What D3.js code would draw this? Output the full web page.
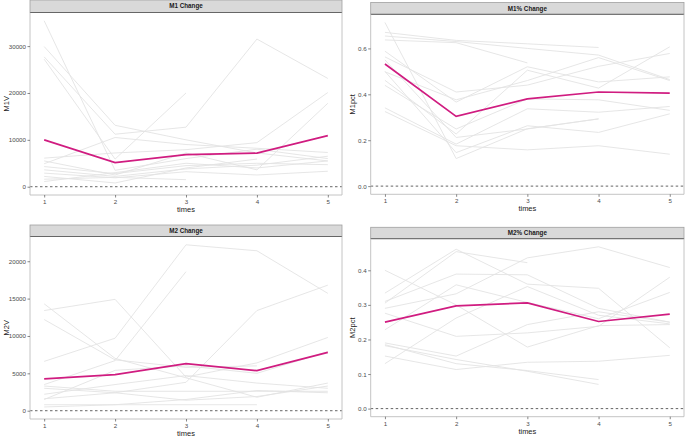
<!DOCTYPE html>
<html><head><meta charset="utf-8">
<script src="https://cdn.jsdelivr.net/npm/d3@7"></script>
<style>body{margin:0;background:#fff}svg{display:block}</style>
</head><body>
<svg id="c" width="685" height="437"></svg>
<script>
const times = [1, 2, 3, 4, 5];
const panelTitles = ["M1 Change", "M1% Change", "M2 Change", "M2% Change"];
const yLabels = ["M1V", "M1pct", "M2V", "M2pct"];

const m1vTicks = [0, 10000, 20000, 30000];
const m1pctTicks = [0, 0.2, 0.4, 0.6];
const m2vTicks = [0, 5000, 10000, 15000, 20000];
const m2pctTicks = [0, 0.1, 0.2, 0.3, 0.4];

const m1vSeries = [
  [35400, 3500, 6000, 8000, 6000],
  [29900, 13100, 10000, 7200, 5500],
  [27700, 11200, 12700, 31500, 23100],
  [27200, 5900, 20000, null, null],
  [6100, 7200, 7900, 9400, 20100],
  [5500, 2500, 7200, 3600, 17800],
  [4900, 10500, 9000, 8200, 7300],
  [4300, 2800, 4500, 5000, 4700],
  [3600, 2200, 3800, 4600, 6500],
  [2900, 1900, 3200, 2500, 3300],
  [2200, 800, 4000, 5900, null],
  [1600, 2000, 1500, null, null],
  [1100, 3000, 5000, 4000, 5500]
];
const m1vMean = [10000, 5150, 6850, 7150, 10900];

const m1pctSeries = [
  [0.713, 0.120, 0.250, 0.293, null],
  [0.670, 0.635, 0.620, 0.604, null],
  [0.654, 0.630, 0.600, 0.571, 0.464],
  [0.637, 0.625, 0.537, null, null],
  [0.588, 0.366, 0.520, 0.454, 0.476],
  [0.563, 0.410, 0.440, 0.522, 0.578],
  [0.498, 0.376, 0.460, 0.560, 0.460],
  [0.461, 0.227, 0.505, 0.427, 0.607],
  [0.439, 0.249, 0.380, 0.376, 0.330],
  [0.341, 0.183, 0.337, 0.322, 0.347],
  [0.325, 0.176, 0.158, 0.176, 0.139],
  [0.500, 0.146, 0.263, 0.234, 0.315],
  [0.550, 0.212, 0.249, 0.293, null]
];
const m1pctMean = [0.532, 0.304, 0.380, 0.410, 0.405];

const m2vSeries = [
  [14300, 7000, 4400, 1800, 3700],
  [13400, 14900, 4500, 6400, 9800],
  [12200, 6800, 5800, 6000, null],
  [6600, 9700, 22200, 21400, 15700],
  [3500, 6700, 18600, null, null],
  [3000, 2400, 3800, 13400, 16800],
  [2200, 3500, 4700, 3700, 3000],
  [1600, 2400, 1400, 1900, 3300],
  [1500, 5400, 6000, 5000, 7900],
  [800, 800, 1500, 2700, 2400],
  [500, 800, 800, 800, null],
  [3300, 2600, 2600, 2600, 2600]
];
const m2vMean = [4250, 4820, 6290, 5360, 7810];

const m2pctSeries = [
  [0.400, 0.300, 0.178, 0.240, 0.243],
  [0.334, 0.461, 0.360, 0.348, 0.176],
  [0.310, 0.389, 0.387, 0.290, 0.250],
  [0.305, 0.454, 0.422, null, null],
  [0.290, 0.332, 0.436, 0.468, 0.408],
  [0.276, 0.209, 0.219, 0.238, 0.380],
  [0.228, 0.358, 0.307, 0.260, 0.336],
  [0.190, 0.152, 0.243, 0.280, 0.250],
  [0.182, 0.142, 0.108, 0.070, null],
  [0.152, 0.113, 0.134, 0.137, 0.154],
  [0.130, 0.262, 0.353, 0.270, 0.245],
  [0.185, 0.130, 0.110, 0.084, null]
];
const m2pctMean = [0.250, 0.297, 0.306, 0.252, 0.273];

const panels = [
  {title: panelTitles[0], ylab: yLabels[0], series: m1vSeries, mean: m1vMean, ticks: m1vTicks,
   x0: 30, x1: 342, sTop: 0, sBot: 12.5, pBot: 195, ylabX: 6, fmt: d => d3.format("d")(d)},
  {title: panelTitles[1], ylab: yLabels[1], series: m1pctSeries, mean: m1pctMean, ticks: m1pctTicks,
   x0: 370.7, x1: 684, sTop: 2.5, sBot: 14.3, pBot: 194.3, ylabX: 352, fmt: d3.format(".1f")},
  {title: panelTitles[2], ylab: yLabels[2], series: m2vSeries, mean: m2vMean, ticks: m2vTicks,
   x0: 30, x1: 342, sTop: 225, sBot: 236.5, pBot: 419, ylabX: 6, fmt: d => d3.format("d")(d)},
  {title: panelTitles[3], ylab: yLabels[3], series: m2pctSeries, mean: m2pctMean, ticks: m2pctTicks,
   x0: 370.7, x1: 684, sTop: 227.3, sBot: 238.7, pBot: 416.7, ylabX: 352, fmt: d3.format(".1f")}
];

const svg = d3.select("#c");
const font = "Liberation Sans, Arial, sans-serif";

panels.forEach((p, pi) => {
  const g = svg.append("g");
  const all = p.series.flat().filter(v => v != null).concat(p.mean, [0]);
  const lo = d3.min(all), hi = d3.max(all);
  const ex = (hi - lo) * 0.05;
  const y = d3.scaleLinear().domain([lo - ex, hi + ex]).range([p.pBot, p.sBot]);
  const x = d3.scaleLinear().domain([0.8, 5.2]).range([p.x0, p.x1]);

  // strip
  g.append("rect").attr("x", p.x0).attr("y", p.sTop).attr("width", p.x1 - p.x0).attr("height", p.sBot - p.sTop)
    .attr("fill", "#d9d9d9").attr("stroke", "#a0a0a0").attr("stroke-width", 0.8);
  g.append("line").attr("x1", p.x0).attr("x2", p.x1).attr("y1", p.sBot).attr("y2", p.sBot)
    .attr("stroke", "#666").attr("stroke-width", 1);
  g.append("text").attr("x", (p.x0 + p.x1) / 2).attr("y", (p.sTop + p.sBot) / 2 + 2.2)
    .attr("text-anchor", "middle").attr("font-family", font).attr("font-size", 6.3).attr("font-weight", "bold")
    .attr("fill", "#1a1a1a").text(p.title);

  const line = d3.line().defined(d => d != null).x((d, i) => x(times[i])).y(d => y(d));
  const clip = "clip" + pi;
  g.append("clipPath").attr("id", clip).append("rect")
    .attr("x", p.x0).attr("y", p.sBot).attr("width", p.x1 - p.x0).attr("height", p.pBot - p.sBot);
  const pg = g.append("g").attr("clip-path", `url(#${clip})`);
  pg.selectAll("path.s").data(p.series).join("path").attr("class", "s")
    .attr("d", line).attr("fill", "none").attr("stroke", "#e3e3e3").attr("stroke-width", 0.9);
  pg.append("path").attr("d", line(p.mean)).attr("fill", "none")
    .attr("stroke", "#d01c80").attr("stroke-width", 1.7);
  pg.append("line").attr("x1", p.x0).attr("x2", p.x1).attr("y1", y(0)).attr("y2", y(0))
    .attr("stroke", "#222").attr("stroke-width", 0.7).attr("stroke-dasharray", "2.5,2.5");

  // panel border (left, bottom, right)
  g.append("path").attr("d", `M${p.x0},${p.sBot}V${p.pBot}H${p.x1}V${p.sBot}`)
    .attr("fill", "none").attr("stroke", "#bdbdbd").attr("stroke-width", 0.9);

  // axes
  const xa = g.append("g").attr("transform", `translate(0,${p.pBot})`)
    .call(d3.axisBottom(x).tickValues(times).tickFormat(d3.format("d")).tickSize(2.5).tickPadding(2));
  const ya = g.append("g").attr("transform", `translate(${p.x0},0)`)
    .call(d3.axisLeft(y).tickValues(p.ticks).tickFormat(p.fmt).tickSize(2.5).tickPadding(1.5));
  [xa, ya].forEach(a => {
    a.select(".domain").remove();
    a.selectAll(".tick line").attr("stroke", "#555").attr("stroke-width", 0.7);
    a.selectAll(".tick text").attr("fill", "#4d4d4d").attr("font-family", font).attr("font-size", 6.2);
  });

  g.append("text").attr("x", (p.x0 + p.x1) / 2).attr("y", p.pBot + 17)
    .attr("text-anchor", "middle").attr("font-family", font).attr("font-size", 7.5).attr("fill", "#222").text("times");
  g.append("text").attr("transform", `translate(${p.ylabX + 2.5},${(p.sBot + p.pBot) / 2}) rotate(-90)`)
    .attr("text-anchor", "middle").attr("font-family", font).attr("font-size", 7.5).attr("fill", "#222").text(p.ylab);
});
</script>
</body></html>
